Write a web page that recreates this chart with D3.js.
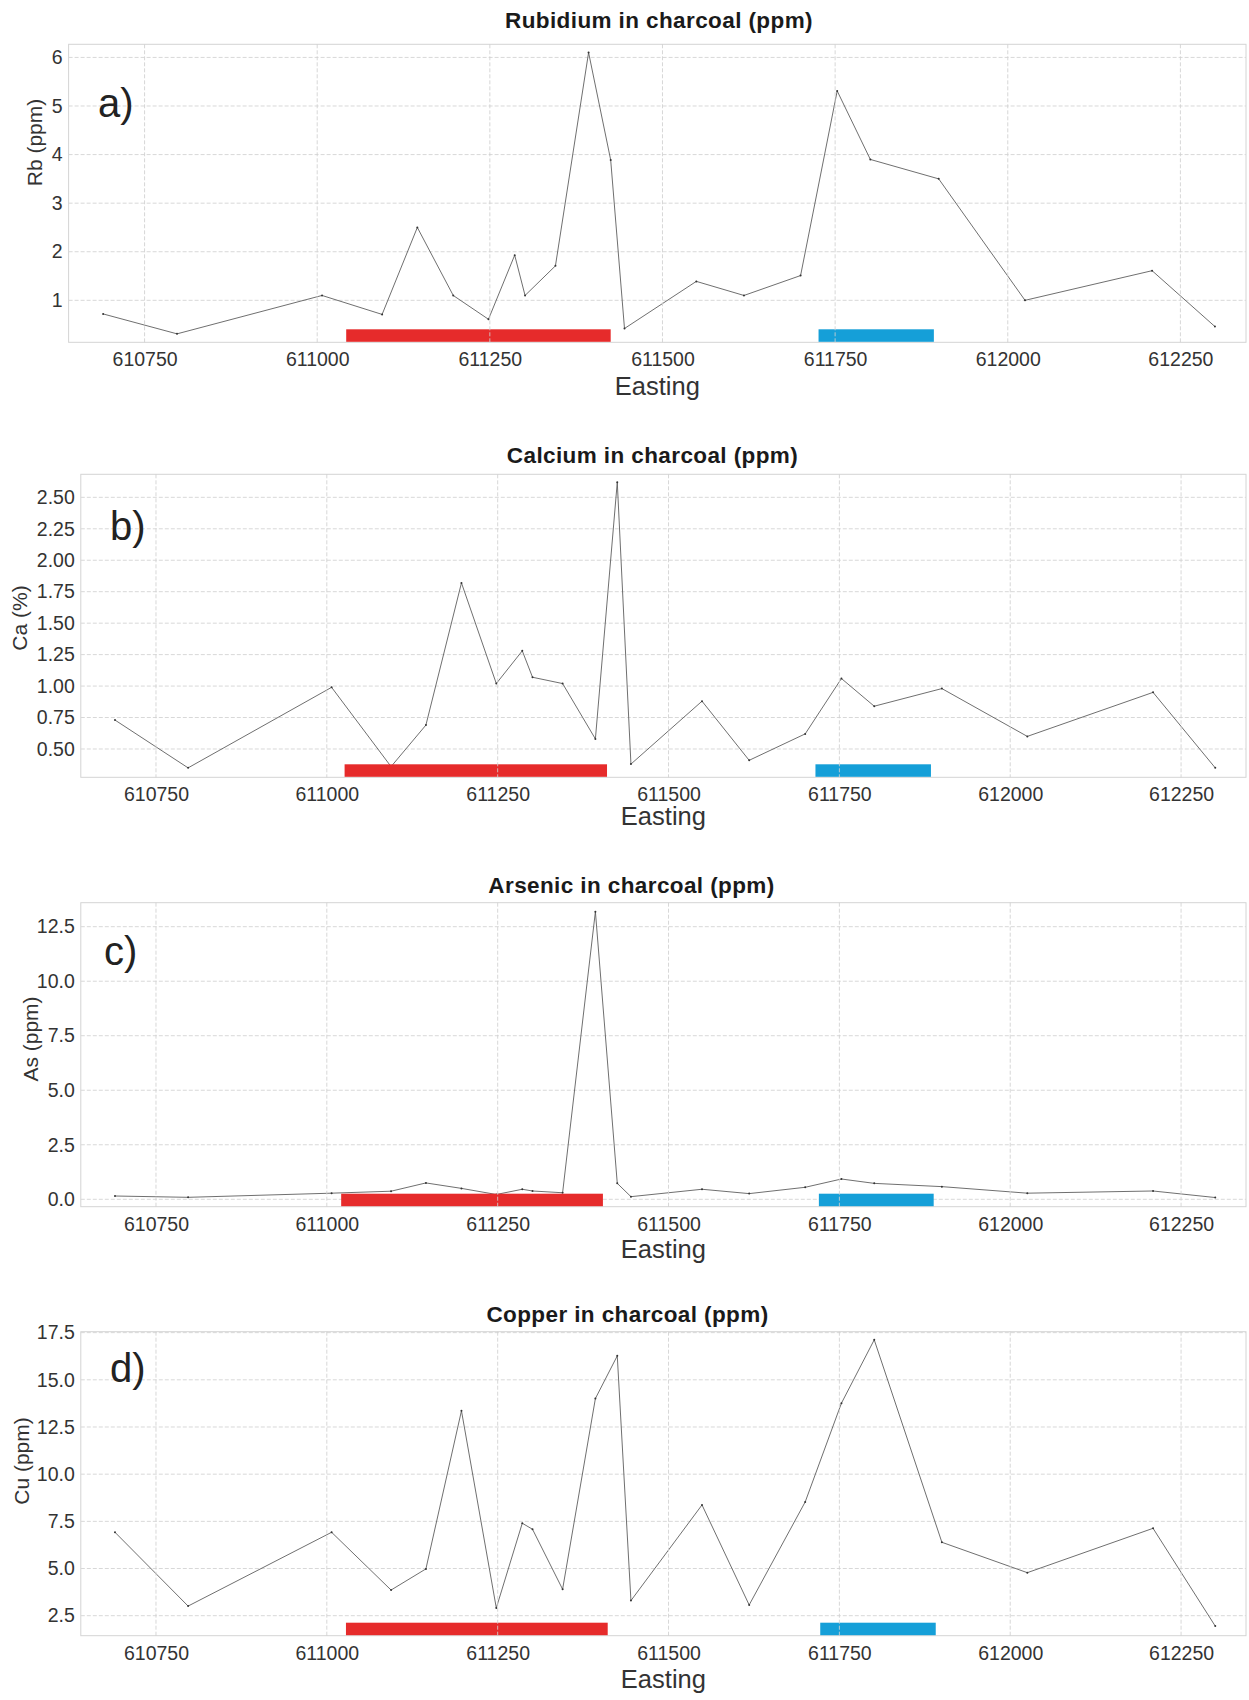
<!DOCTYPE html>
<html>
<head>
<meta charset="utf-8">
<script src="https://cdn.jsdelivr.net/npm/d3@7"></script>
<style>
  body { margin: 0; background: #fff; }
  text { font-family: "Liberation Sans", Arial, sans-serif; }
</style>
</head>
<body>
<div id="chart"></div>
<script>
// sample positions (Easting) shared by all four profiles
const easting = [610690, 610797, 611007, 611094, 611145, 611197, 611248, 611286, 611301, 611345, 611393,
                 611425, 611445, 611549, 611618, 611700, 611753, 611801, 611900, 612025, 612209, 612300];

const rb = [0.72, 0.31, 1.10, 0.71, 2.50, 1.10, 0.61, 1.93, 1.10, 1.71, 6.10,
            3.89, 0.42, 1.39, 1.10, 1.51, 5.31, 3.90, 3.50, 1.00, 1.61, 0.46];
const ca = [0.73, 0.35, 0.99, 0.36, 0.69, 1.82, 1.02, 1.28, 1.07, 1.02, 0.58,
            2.62, 0.38, 0.88, 0.41, 0.62, 1.06, 0.84, 0.98, 0.60, 0.95, 0.35];
const as = [0.15, 0.09, 0.28, 0.37, 0.75, 0.50, 0.22, 0.46, 0.38, 0.30, 13.19,
            0.73, 0.12, 0.46, 0.26, 0.55, 0.93, 0.73, 0.58, 0.28, 0.38, 0.08];
const cu = [6.92, 3.01, 6.92, 3.86, 4.98, 13.36, 2.91, 7.40, 7.08, 3.90, 14.01,
            16.27, 3.30, 8.37, 3.07, 8.53, 13.76, 17.12, 6.39, 4.78, 7.13, 1.95];

const xTicks = [610750, 611000, 611250, 611500, 611750, 612000, 612250];
const xDomain = [610640, 612345];

const rbTicks = [1, 2, 3, 4, 5, 6];
const caTicks = [0.5, 0.75, 1.0, 1.25, 1.5, 1.75, 2.0, 2.25, 2.5];
const asTicks = [0, 2.5, 5, 7.5, 10, 12.5];
const cuTicks = [2.5, 5, 7.5, 10, 12.5, 15, 17.5];

const rbDomain = [0.136, 6.27];
const caDomain = [0.275, 2.683];
const asDomain = [-0.34, 13.6];
const cuDomain = [1.44, 17.55];

// marked zones along the profile (red and blue bars)
const redZones = [[611042, 611425], [611026, 611410], [611021, 611404], [611028, 611411]];
const blueZones = [[611726, 611893], [611715, 611884], [611720, 611888], [611722, 611891]];

const titles = ["Rubidium in charcoal (ppm)", "Calcium in charcoal (ppm)",
                "Arsenic in charcoal (ppm)", "Copper in charcoal (ppm)"];
const yLabels = ["Rb (ppm)", "Ca (%)", "As (ppm)", "Cu (ppm)"];
const tags = ["a)", "b)", "c)", "d)"];

const series = [rb, ca, as, cu];
const yTickSets = [rbTicks, caTicks, asTicks, cuTicks];
const yDomains = [rbDomain, caDomain, asDomain, cuDomain];
const formats = [d3.format("d"), d3.format(".2f"), d3.format(".1f"), d3.format(".1f")];

// page layout of each panel
const layout = [
  {left: 68.6, top: 44.3,   bottom: 342.3,  titleX: 659,   titleY: 28.3,   xlabY: 395,  ylabX: 34.7, ylabY: 142.5, tagX: 98,  tagY: 117},
  {left: 80.8, top: 474.3,  bottom: 777.3,  titleX: 652.5, titleY: 463.3,  xlabY: 825,  ylabX: 19.4, ylabY: 618,   tagX: 110, tagY: 540},
  {left: 80.8, top: 902.7,  bottom: 1206.7, titleX: 631.5, titleY: 893,    xlabY: 1258, ylabX: 30.6, ylabY: 1039,  tagX: 104, tagY: 965},
  {left: 80.8, top: 1331.7, bottom: 1635.7, titleX: 627.5, titleY: 1321.7, xlabY: 1688, ylabX: 21.6, ylabY: 1461,  tagX: 110, tagY: 1382}
];
const right = 1246;
const width = 1249, height = 1700;

const svg = d3.select("#chart").append("svg")
  .attr("width", width)
  .attr("height", height);

layout.forEach(function(L, p) {
  let g = svg.append("g").attr("class", "panel");

  let x = d3.scaleLinear().domain(xDomain).range([L.left, right]);
  let y = d3.scaleLinear().domain(yDomains[p]).range([L.bottom, L.top]);

  // plot frame
  g.append("rect")
    .attr("x", L.left).attr("y", L.top)
    .attr("width", right - L.left).attr("height", L.bottom - L.top)
    .attr("fill", "none").attr("stroke", "#d4d4d4").attr("stroke-width", 1);

  // y grid
  g.append("g").selectAll("line")
    .data(yTickSets[p])
    .enter().append("line")
    .attr("x1", L.left).attr("x2", right)
    .attr("y1", d => y(d)).attr("y2", d => y(d))
    .attr("stroke", "#d8d8d8").attr("stroke-dasharray", "4,2");

  // profile line + sample dots
  let pts = easting.map((e, i) => [e, series[p][i]]);
  let line = d3.line().x(d => x(d[0])).y(d => y(d[1]));
  g.append("path")
    .datum(pts)
    .attr("d", line)
    .attr("fill", "none")
    .attr("stroke", "#555")
    .attr("stroke-width", 0.85);
  g.append("g").selectAll("circle")
    .data(pts)
    .enter().append("circle")
    .attr("cx", d => x(d[0])).attr("cy", d => y(d[1]))
    .attr("r", 1.0).attr("fill", "#333");

  // zone bars on the floor of the plot
  let barH = 12.5;
  g.append("rect")
    .attr("x", x(redZones[p][0])).attr("y", L.bottom - barH - 0.5)
    .attr("width", x(redZones[p][1]) - x(redZones[p][0])).attr("height", barH)
    .attr("fill", "#e62b2b");
  g.append("rect")
    .attr("x", x(blueZones[p][0])).attr("y", L.bottom - barH - 0.5)
    .attr("width", x(blueZones[p][1]) - x(blueZones[p][0])).attr("height", barH)
    .attr("fill", "#159fd8");

  // x grid (drawn over the bars, as in the figure)
  g.append("g").selectAll("line")
    .data(xTicks)
    .enter().append("line")
    .attr("x1", d => x(d)).attr("x2", d => x(d))
    .attr("y1", L.top).attr("y2", L.bottom)
    .attr("stroke", "#d0d0d0").attr("stroke-opacity", 0.85)
    .attr("stroke-dasharray", "4,2");

  // axes
  let xAxis = d3.axisBottom(x).tickValues(xTicks).tickSize(0).tickFormat(d3.format("d"));
  let xg = g.append("g")
    .attr("transform", "translate(0," + L.bottom + ")")
    .call(xAxis);
  xg.select(".domain").remove();
  xg.selectAll("text")
    .attr("y", 24).attr("dy", null)
    .attr("font-size", 19.5).attr("fill", "#333")
    .attr("font-family", "'Liberation Sans', Arial, sans-serif");

  let yAxis = d3.axisLeft(y).tickValues(yTickSets[p]).tickSize(0).tickPadding(6).tickFormat(formats[p]);
  let yg = g.append("g")
    .attr("transform", "translate(" + L.left + ",0)")
    .call(yAxis);
  yg.select(".domain").remove();
  yg.selectAll("text")
    .attr("font-size", 19.5).attr("fill", "#333")
    .attr("font-family", "'Liberation Sans', Arial, sans-serif");

  // texts
  g.append("text")
    .attr("x", L.titleX).attr("y", L.titleY)
    .attr("text-anchor", "middle")
    .attr("font-size", 22.5).attr("font-weight", "bold")
    .attr("letter-spacing", 0.4)
    .attr("fill", "#1a1a1a")
    .text(titles[p]);

  g.append("text")
    .attr("x", (L.left + right) / 2).attr("y", L.xlabY)
    .attr("text-anchor", "middle")
    .attr("font-size", 25.5).attr("fill", "#333")
    .text("Easting");

  g.append("text")
    .attr("transform", "translate(" + L.ylabX + "," + L.ylabY + ") rotate(-90)")
    .attr("text-anchor", "middle")
    .attr("dominant-baseline", "central")
    .attr("font-size", 21).attr("fill", "#333")
    .text(yLabels[p]);

  g.append("text")
    .attr("x", L.tagX).attr("y", L.tagY)
    .attr("font-size", 40).attr("fill", "#222")
    .text(tags[p]);
});
</script>
</body>
</html>
